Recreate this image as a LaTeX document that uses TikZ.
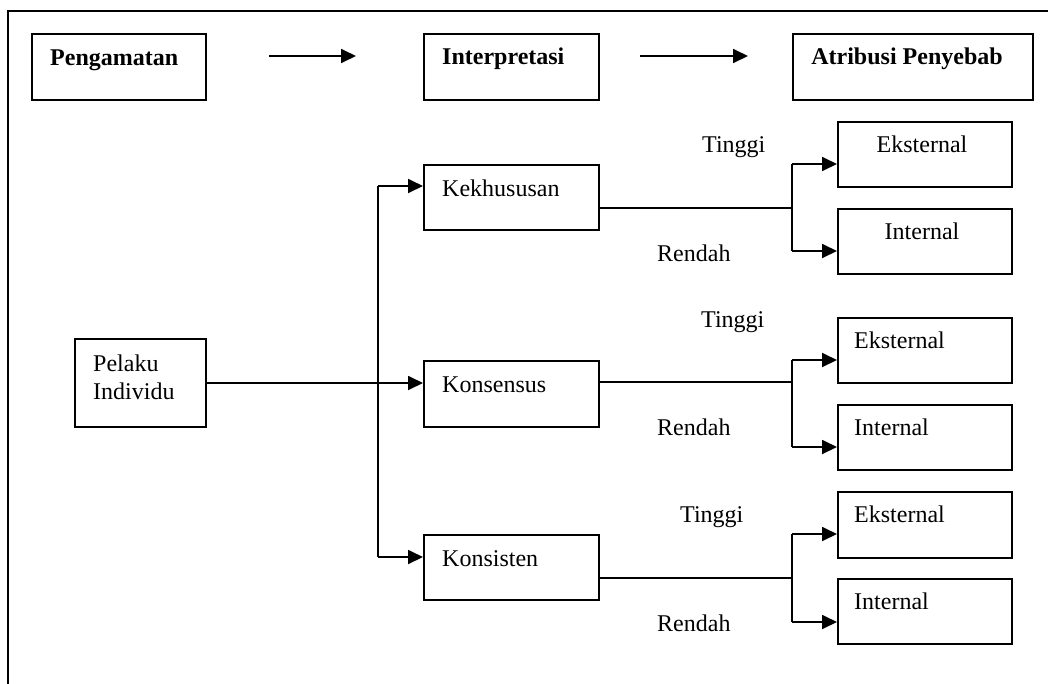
\documentclass[tikz,border=0pt]{standalone}
\usepackage{fontspec}
\setmainfont{Liberation Serif}
\usetikzlibrary{arrows.meta}
\begin{document}
\begin{tikzpicture}[x=1pt,y=-1pt,
  box/.style={draw, line width=2pt, anchor=north west, inner sep=0pt},
  lbl/.style={anchor=base west, inner sep=0pt, font=\fontsize{24}{28}\selectfont},
  hdr/.style={lbl, font=\fontsize{24}{28}\selectfont\bfseries},
  wire/.style={line width=1.8pt},
  arr/.style={wire, -{Triangle[length=15pt,width=14pt]}}]
\useasboundingbox (0,0) rectangle (1048,683);
\fill[white] (0,0) rectangle (1048,683);
\begin{scope}
\clip (0,0) rectangle (1048,683);
% outer frame, running past the page on the right and bottom
\draw[line width=2.4pt] (8,11) rectangle (1070,710);
\end{scope}

% header row
\node[box, minimum width=174pt, minimum height=66pt] (peng) at (31,33) {};
\node[box, minimum width=175pt, minimum height=66pt] (intp) at (423,33) {};
\node[box, minimum width=240pt, minimum height=66pt] (atrb) at (792,33) {};
\node[hdr] (pengT) at (50,65) {Pengamatan};
\node[hdr] (intpT) at (442,64) {Interpretasi};
\node[hdr, anchor=base] (atrbT) at (907,64) {Atribusi Penyebab};
\coordinate (a1s) at (269,56); \coordinate (a1e) at (356,56);
\coordinate (a2s) at (640,56); \coordinate (a2e) at (748,56);
\draw[arr] (a1s) -- (a1e);
\draw[arr] (a2s) -- (a2e);

% actor
\node[box, minimum width=131pt, minimum height=88pt] (pel) at (74,338) {};
\node[lbl] (pelT) at (93,371) {\begin{tabular}[t]{@{}l@{}}Pelaku\\Individu\end{tabular}};

% interpretation boxes
\node[box, minimum width=175pt, minimum height=65pt] (kek) at (423,164) {};
\node[box, minimum width=175pt, minimum height=66pt] (kns) at (423,360) {};
\node[box, minimum width=175pt, minimum height=65pt] (kst) at (423,534) {};
\node[lbl] (kekT) at (442,196) {Kekhususan};
\node[lbl] (knsT) at (442,392) {Konsensus};
\node[lbl] (kstT) at (442,566) {Konsisten};

% attribution boxes
\node[box, minimum width=174pt, minimum height=65pt] (e1) at (837,121) {};
\node[box, minimum width=174pt, minimum height=65pt] (i1) at (837,208) {};
\node[box, minimum width=174pt, minimum height=65pt] (e2) at (837,317) {};
\node[box, minimum width=174pt, minimum height=65pt] (i2) at (837,404) {};
\node[box, minimum width=174pt, minimum height=66pt] (e3) at (837,491) {};
\node[box, minimum width=174pt, minimum height=65pt] (i3) at (837,578) {};
\node[lbl, anchor=base] (e1T) at (922,152) {Eksternal};
\node[lbl, anchor=base] (i1T) at (922,239) {Internal};
\node[lbl] (e2T) at (854,348) {Eksternal};
\node[lbl] (i2T) at (854,435) {Internal};
\node[lbl] (e3T) at (854,522) {Eksternal};
\node[lbl] (i3T) at (854,609) {Internal};

% level labels
\node[lbl] (t1) at (702,152) {Tinggi};
\node[lbl] (r1) at (657,261) {Rendah};
\node[lbl] (t2) at (701,327) {Tinggi};
\node[lbl] (r2) at (657,435) {Rendah};
\node[lbl] (t3) at (680,522) {Tinggi};
\node[lbl] (r3) at (657,631) {Rendah};

% actor to the three interpretations
\draw[arr] (pel.east) -- (pel.east -| kns.west);
\coordinate (bt) at (378,186);
\coordinate (bb) at (378,557);
\draw[wire] (bt) -- (bb);
\draw[arr] (bt) -- (bt -| kek.west);
\draw[arr] (bb) -- (bb -| kst.west);

% interpretation to attribution forks
\coordinate (s1) at (792,208); \coordinate (u1) at (792,164); \coordinate (d1) at (792,251);
\coordinate (s2) at (792,382); \coordinate (u2) at (792,360); \coordinate (d2) at (792,447);
\coordinate (s3) at (792,578); \coordinate (u3) at (792,534); \coordinate (d3) at (792,622);
\draw[wire] (s1 -| kek.east) -- (s1);
\draw[wire] (s2 -| kns.east) -- (s2);
\draw[wire] (s3 -| kst.east) -- (s3);
\draw[wire] (u1) -- (d1);
\draw[wire] (u2) -- (d2);
\draw[wire] (u3) -- (d3);
\draw[arr] (u1) -- (u1 -| e1.west);
\draw[arr] (d1) -- (d1 -| i1.west);
\draw[arr] (u2) -- (u2 -| e2.west);
\draw[arr] (d2) -- (d2 -| i2.west);
\draw[arr] (u3) -- (u3 -| e3.west);
\draw[arr] (d3) -- (d3 -| i3.west);
\end{tikzpicture}
\end{document}
